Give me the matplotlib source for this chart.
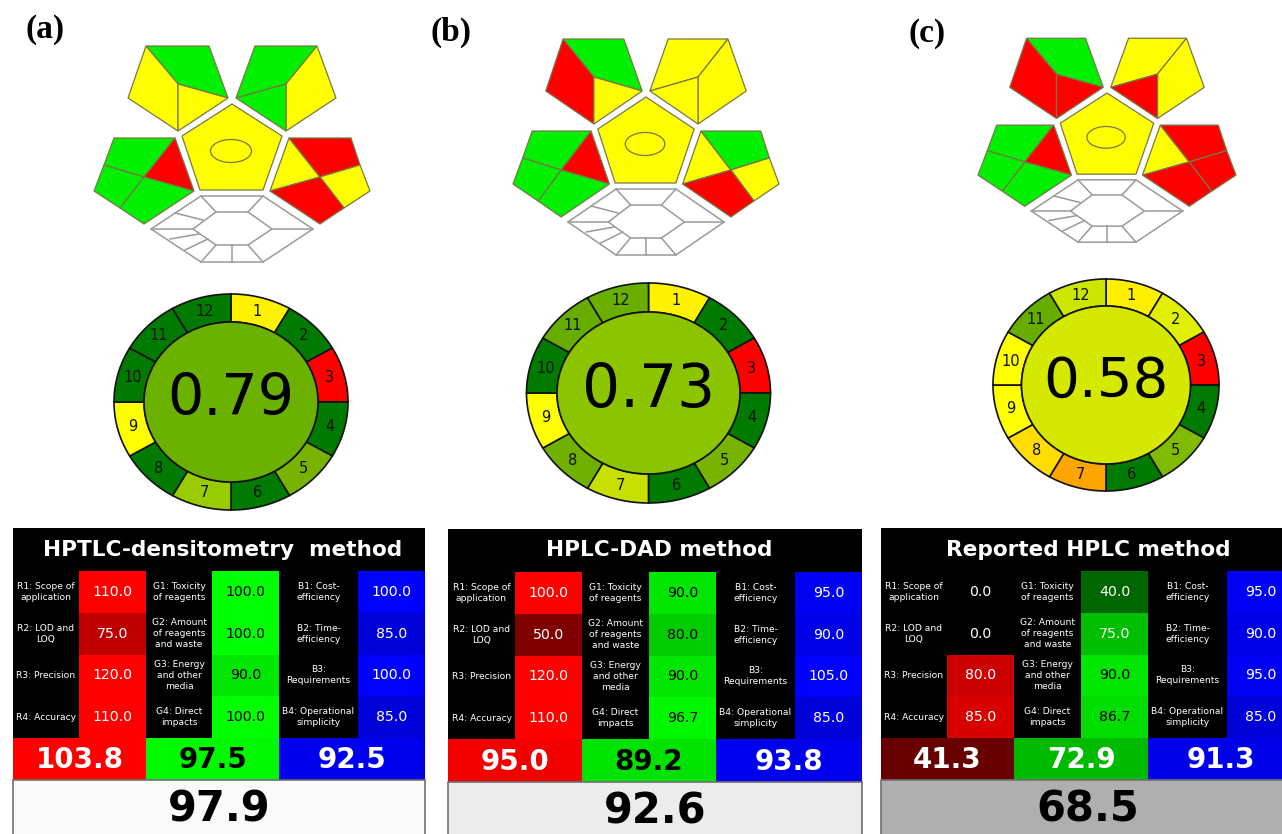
import numpy as np
import matplotlib
matplotlib.use('Agg')
import matplotlib.pyplot as plt
from matplotlib.patches import Ellipse, Rectangle

# ---- data ----
panel_labels = ['(a)', '(b)', '(c)']

# GAPI pictogram levels: g / y / r
gapi_top_left = [['g', 'y', 'y'], ['g', 'r', 'y'], ['g', 'r', 'r']]
gapi_top_right = [['g', 'y', 'g'], ['y', 'y', 'y'], ['y', 'y', 'r']]
gapi_mid_left = [['g', 'r', 'g', 'g'], ['g', 'r', 'g', 'g'], ['g', 'r', 'g', 'g']]
gapi_mid_right = [['y', 'r', 'y', 'r'], ['y', 'g', 'y', 'r'], ['y', 'r', 'r', 'r']]

# AGREE
agree_scores = ['0.79', '0.73', '0.58']
agree_centre = ['#6ab100', '#8cc400', '#d4e800']
dg = '#007a00'
agree_a = ['#fff200', dg, '#ff0000', dg, '#77b300', dg, '#99cc00', dg, '#ffff00', dg, dg, dg]
agree_b = ['#fff200', dg, '#ff0000', dg, '#77b300', dg, '#c8e000', '#6fb000', '#ffff00', dg, '#66ad00', '#6aae00']
agree_c = ['#fff000', '#e0f000', '#ff0000', dg, '#80bb00', dg, '#ffa500', '#ffdd00', '#ffff00', '#ffff00', '#66ad00', '#cce600']
agree_segments = [agree_a, agree_b, agree_c]

# RGB 12
method_names = ['HPTLC-densitometry  method', 'HPLC-DAD method', 'Reported HPLC method']
r_labels = ['R1: Scope of\napplication', 'R2: LOD and\nLOQ', 'R3: Precision', 'R4: Accuracy']
g_labels = ['G1: Toxicity\nof reagents', 'G2: Amount\nof reagents\nand waste', 'G3: Energy\nand other\nmedia', 'G4: Direct\nimpacts']
b_labels = ['B1: Cost-\nefficiency', 'B2: Time-\nefficiency', 'B3:\nRequirements', 'B4: Operational\nsimplicity']
r_values = [[110.0, 75.0, 120.0, 110.0], [100.0, 50.0, 120.0, 110.0], [0.0, 0.0, 80.0, 85.0]]
g_values = [[100.0, 100.0, 90.0, 100.0], [90.0, 80.0, 90.0, 96.7], [40.0, 75.0, 90.0, 86.7]]
b_values = [[100.0, 85.0, 100.0, 85.0], [95.0, 90.0, 105.0, 85.0], [95.0, 90.0, 95.0, 85.0]]
r_totals = [103.8, 95.0, 41.3]
g_totals = [97.5, 89.2, 72.9]
b_totals = [92.5, 93.8, 91.3]
overall = [97.9, 92.6, 68.5]

# ---- layout, in pixels of the 1282x834 picture ----
label_pos = [(45, 29), (451, 32), (927, 33)]
gapi_origin = [(232, 104), (646, 97), (1107, 93)]
gapi_scale = [(1.0, 1.0), (0.964, 1.0), (0.935, 0.944)]
ring_centre = [(231, 402), (648.5, 393), (1106, 385)]
ring_outer = [(117, 108), (122, 110), (113, 106)]
ring_inner = [(87, 80), (91.5, 81), (84.5, 79)]
score_size = [41, 43, 40.5]
table_x = [[13, 79, 146, 212, 279, 358, 425],
           [448, 515, 582, 649, 716, 795, 862],
           [881, 947, 1014, 1081, 1148, 1227, 1294]]
table_y = [[528, 571, 738, 780], [529, 572, 739, 782], [528, 571, 738, 780]]
title_x = [223, 659, 1088]

# pictogram shapes relative to the apex of the centre pentagon
tl_o = [(-86, -58), (-23, -58), (-4, -6), (-54, 27), (-104, -6)]
tl_i = (-54, -20)
tl_parts = [[tl_o[0], tl_o[1], tl_o[2], tl_i],
            [tl_o[0], tl_i, tl_o[3], tl_o[4]],
            [tl_i, tl_o[2], tl_o[3]]]
tr_o = [(23, -58), (85, -58), (104, -6), (54, 27), (4, -6)]
tr_i = (54, -20)
tr_parts = [[tr_o[0], tr_o[1], tr_i, tr_o[4]],
            [tr_o[1], tr_o[2], tr_o[3], tr_i],
            [tr_o[4], tr_i, tr_o[3]]]
ml_i = (-88, 73)
ml_parts = [[(-118, 34), (-57, 34), ml_i, (-128, 61)],
            [(-57, 34), (-38, 87), ml_i],
            [(-38, 87), (-88, 120), (-112, 104), ml_i],
            [(-128, 61), ml_i, (-112, 104), (-138, 87)]]
mr_i = (88, 73)
mr_parts = [[(57, 34), mr_i, (38, 87)],
            [(57, 34), (119, 34), (128, 61), mr_i],
            [(128, 61), (138, 87), (112, 104), mr_i],
            [(38, 87), mr_i, (112, 104), (88, 120)]]
centre_pent = [(0, 0), (50, 32), (31, 86), (-32, 86), (-50, 32)]
hex_outer = [(-31, 92), (31, 92), (81, 125), (31, 158), (-31, 158), (-81, 125)]
hex_inner = [(-16, 108), (16, 108), (40, 125), (16, 141), (-16, 141), (-39, 125)]
hex_extra = [[(-57, 109), (-29, 116)], [(-62, 135), (-33, 130)],
             [(-47, 146), (-24, 135)], [(0, 141), (0, 158)]]

colors = {'g': '#00f000', 'y': '#ffff00', 'r': '#ff0000'}
line_col = '#77774a'
hex_col = '#9a9a9a'

plt.rcParams['font.family'] = ['DejaVu Sans']

fig = plt.figure(figsize=(12.82, 8.34), dpi=100)
ax = fig.add_axes([0, 0, 1, 1])
ax.set_xlim(0, 1282)
ax.set_ylim(834, 0)
ax.axis('off')


def shade(v, channel):
    level = min(v, 100.0) / 100.0
    rgb = [0.0, 0.0, 0.0]
    rgb[channel] = level
    return tuple(rgb)


for p in range(3):
    ax.text(label_pos[p][0], label_pos[p][1], panel_labels[p], family='Liberation Serif',
            weight='bold', fontsize=24, ha='center', va='center')

    # GAPI
    ox, oy = gapi_origin[p]
    sx, sy = gapi_scale[p]

    def put(points):
        return [ox + q[0] * sx for q in points], [oy + q[1] * sy for q in points]

    groups = [(tl_parts, gapi_top_left[p]), (tr_parts, gapi_top_right[p]),
              (ml_parts, gapi_mid_left[p]), (mr_parts, gapi_mid_right[p]),
              ([centre_pent], ['y'])]
    for parts, levels in groups:
        for part, level in zip(parts, levels):
            xs, ys = put(part)
            ax.fill(xs, ys, facecolor=colors[level], edgecolor=line_col, linewidth=0.9)
    ax.add_patch(Ellipse((ox - 1 * sx, oy + 47 * sy), 41 * sx, 23 * sy, fill=False,
                         edgecolor=line_col, linewidth=0.9))
    for shape in [hex_outer, hex_inner]:
        xs, ys = put(shape)
        ax.fill(xs, ys, facecolor='white', edgecolor=hex_col, linewidth=1.1, zorder=2)
    for a, b in zip(hex_outer, hex_inner):
        xs, ys = put([a, b])
        ax.plot(xs, ys, color=hex_col, linewidth=1.1, zorder=3)
    for seg in hex_extra:
        xs, ys = put(seg)
        ax.plot(xs, ys, color=hex_col, linewidth=1.1, zorder=3)

    # AGREE
    cx, cy = ring_centre[p]
    rx, ry = ring_outer[p]
    ix, iy = ring_inner[p]
    for i, col in enumerate(agree_segments[p]):
        t = np.radians(np.linspace(30 * i, 30 * (i + 1), 40))
        xs = np.r_[cx + rx * np.sin(t), cx + ix * np.sin(t[::-1])]
        ys = np.r_[cy - ry * np.cos(t), cy - iy * np.cos(t[::-1])]
        ax.fill(xs, ys, facecolor=col, edgecolor='#111111', linewidth=1.2)
        mid = np.radians(30 * i + 15)
        ax.text(cx + (rx + ix) / 2 * np.sin(mid), cy - (ry + iy) / 2 * np.cos(mid), str(i + 1),
                fontsize=10.5, color='#0c1400', ha='center', va='center')
    ax.add_patch(Ellipse((cx, cy), 2 * ix, 2 * iy, facecolor=agree_centre[p],
                         edgecolor='#111111', linewidth=1.2, zorder=3))
    ax.text(cx, cy - 3, agree_scores[p], fontsize=score_size[p], color='black',
            ha='center', va='center', zorder=4)

    # RGB 12 table
    x = table_x[p]
    y0, y1, y2, y3 = table_y[p]
    ax.add_patch(Rectangle((x[0], y0), x[6] - x[0], y2 - y0, facecolor='black', edgecolor='none'))
    ax.text(title_x[p], (y0 + y1) / 2, method_names[p],
            color='white', weight='bold', fontsize=15.6, ha='center', va='center')
    row_h = (y2 - y1) / 4
    cols = [(x[0], x[1], x[2], r_labels, r_values[p], 0),
            (x[2], x[3], x[4], g_labels, g_values[p], 1),
            (x[4], x[5], x[6], b_labels, b_values[p], 2)]
    for left, mid_x, right, labels, vals, ch in cols:
        for r in range(4):
            top = y1 + r * row_h
            ax.add_patch(Rectangle((mid_x, top), right - mid_x, row_h,
                                   facecolor=shade(vals[r], ch), edgecolor='none'))
            ax.text((left + mid_x) / 2, top + row_h / 2, labels[r], color='white', fontsize=6.6,
                    ha='center', va='center', linespacing=1.3)
            tc = 'black' if ch == 1 and vals[r] >= 78 else 'white'
            ax.text((mid_x + right) / 2, top + row_h / 2, '%.1f' % vals[r], color=tc, fontsize=10.2,
                    ha='center', va='center')
    totals = [r_totals[p], g_totals[p], b_totals[p]]
    for ch, (a, b) in enumerate([(x[0], x[2]), (x[2], x[4]), (x[4], x[6])]):
        ax.add_patch(Rectangle((a, y2), b - a, y3 - y2, facecolor=shade(totals[ch], ch), edgecolor='none'))
        tc = 'black' if ch == 1 and totals[ch] >= 78 else 'white'
        ax.text((a + b) / 2, (y2 + y3) / 2 + 1, '%.1f' % totals[ch], color=tc, weight='bold', fontsize=20,
                ha='center', va='center')
    grey = min(overall[p], 100.0) / 100.0
    ax.add_patch(Rectangle((x[0], y3), x[6] - x[0], 70, facecolor=(grey, grey, grey),
                           edgecolor='#707070', linewidth=1.2))
    ax.text((x[0] + x[6]) / 2, y3 + 30, '%.1f' % overall[p], color='black', weight='bold', fontsize=30,
            ha='center', va='center')

fig.savefig('out.png', dpi=100)
